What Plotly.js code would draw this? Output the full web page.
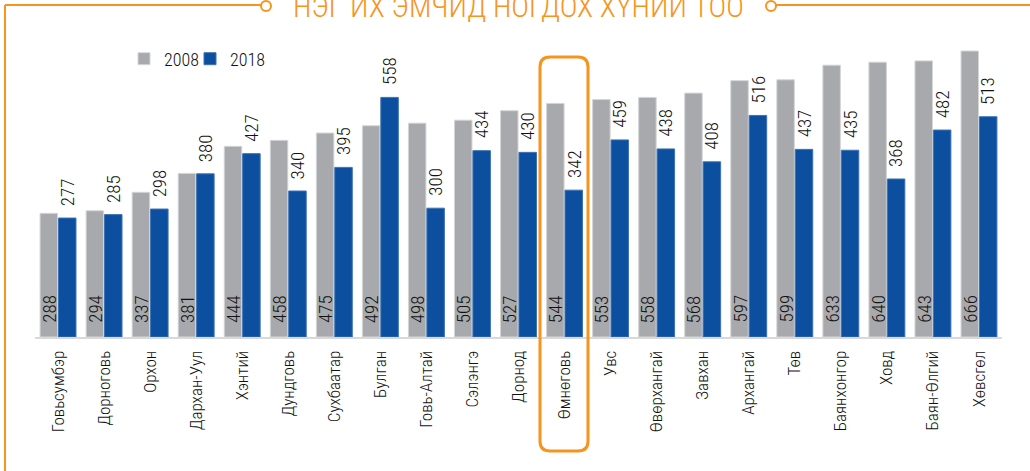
<!DOCTYPE html>
<html>
<head>
<meta charset="utf-8">
<script src="https://cdn.plot.ly/plotly-3.0.1.min.js"></script>
<style>html,body{margin:0;padding:0;background:#fff;}#chart{width:1030px;height:471px;}</style>
</head>
<body>
<div id="chart"></div>
<script>
const categories = ["Говьсумбэр","Дорноговь","Орхон","Дархан-Уул","Хэнтий","Дундговь","Сухбаатар","Булган","Говь-Алтай","Сэлэнгэ","Дорнод","Өмнөговь","Увс","Өвөрхангай","Завхан","Архангай","Төв","Баянхонгор","Ховд","Баян-Өлгий","Хөвсгөл"];
const values2008 = [288,294,337,381,444,458,475,492,498,505,527,544,553,558,568,597,599,633,640,643,666];
const values2018 = [277,285,298,380,427,340,395,558,300,434,430,342,459,438,408,516,437,435,368,482,513];
const seriesNames = ["2008","2018"];
const titleText = "НЭГ ИХ ЭМЧИД НОГДОХ ХҮНИЙ ТОО";
const highlighted = "Өмнөговь";

const FONT = "'Roboto Condensed', 'Roboto', sans-serif";
const GRAY = "#a7a9ac", BLUE = "#0b4f9e", ORANGE = "#f7941d", TXT = "#111111";

const W = 1030, H = 471, ML = 35, MR = 28, MT = 36, MB = 134;
const PW = W - ML - MR, PH = H - MT - MB;
const px = v => (v - ML) / PW;
const py = v => (H - MB - v) / PH;

const idx = categories.map((c, i) => i);
const annotations = [];
values2008.forEach((v, i) => annotations.push({
  x: i - 0.2, y: 0, xref: "x", yref: "y", text: String(v), showarrow: false,
  textangle: -90, yanchor: "bottom", xanchor: "center", yshift: 12,
  font: {family: FONT, size: 19, color: TXT, weight: 300}
}));
values2018.forEach((v, i) => annotations.push({
  x: i + 0.2, y: v, xref: "x", yref: "y", text: String(v), showarrow: false,
  textangle: -90, yanchor: "bottom", xanchor: "center", yshift: 10,
  font: {family: FONT, size: 19, color: TXT, weight: 300}
}));
annotations.push({
  x: px(518), y: py(6), xref: "paper", yref: "paper", text: titleText, showarrow: false,
  xanchor: "center", yanchor: "middle", font: {family: FONT, size: 30, color: ORANGE, weight: 300}
});

// highlight box around the highlighted category
const hi = categories.indexOf(highlighted);
const bx0 = 540, bx1 = 588, by0 = 57, by1 = 451, r = 10;
const boxPath = `M${px(bx0 + r)},${py(by0)} L${px(bx1 - r)},${py(by0)} Q${px(bx1)},${py(by0)} ${px(bx1)},${py(by0 + r)} ` +
  `L${px(bx1)},${py(by1 - r)} Q${px(bx1)},${py(by1)} ${px(bx1 - r)},${py(by1)} L${px(bx0 + r)},${py(by1)} ` +
  `Q${px(bx0)},${py(by1)} ${px(bx0)},${py(by1 - r)} L${px(bx0)},${py(by0 + r)} Q${px(bx0)},${py(by0)} ${px(bx0 + r)},${py(by0)} Z`;

const shapes = [
  {type: "path", xref: "paper", yref: "paper", path: boxPath, line: {color: ORANGE, width: 3}},
  {type: "line", xref: "paper", yref: "paper", x0: px(5), y0: py(5), x1: px(5), y1: py(471), line: {color: ORANGE, width: 2}},
  {type: "line", xref: "paper", yref: "paper", x0: px(5), y0: py(5), x1: px(261), y1: py(5), line: {color: ORANGE, width: 2}},
  {type: "line", xref: "paper", yref: "paper", x0: px(776), y0: py(5), x1: px(1030), y1: py(5), line: {color: ORANGE, width: 2}},
  {type: "circle", xref: "paper", yref: "paper", x0: px(261), y0: py(1), x1: px(271), y1: py(11), line: {color: ORANGE, width: 2}, fillcolor: "#fff"},
  {type: "circle", xref: "paper", yref: "paper", x0: px(766), y0: py(1), x1: px(776), y1: py(11), line: {color: ORANGE, width: 2}, fillcolor: "#fff"}
];

const data = [
  {type: "bar", name: seriesNames[0], x: idx, y: values2008, legend: "legend",
   marker: {color: GRAY, line: {color: "#d4d5d7", width: 1}}, hoverinfo: "y"},
  {type: "bar", name: seriesNames[1], x: idx, y: values2018, legend: "legend2",
   marker: {color: BLUE, line: {color: "#3d72b4", width: 1}}, hoverinfo: "y"}
];

const legendCommon = {orientation: "h", y: py(59), xanchor: "left", yanchor: "middle",
  font: {family: FONT, size: 18, color: TXT, weight: 300}, bgcolor: "rgba(0,0,0,0)", itemclick: false};

const layout = {
  width: W, height: H,
  margin: {l: ML, r: MR, t: MT, b: MB, pad: 0},
  paper_bgcolor: "#fff", plot_bgcolor: "#fff",
  barmode: "group", bargap: 0.2, bargroupgap: 0.05,
  font: {family: FONT, color: TXT},
  showlegend: true,
  legend: Object.assign({x: px(124)}, legendCommon),
  legend2: Object.assign({x: px(190)}, legendCommon),
  xaxis: {
    type: "linear", range: [-0.5, categories.length - 0.5], tickmode: "array", tickvals: idx, ticktext: categories,
    tickangle: -90, tickfont: {family: FONT, size: 17, color: TXT, weight: 300}, ticks: "", showgrid: false, zeroline: false,
    showline: true, linecolor: "#d9d9d9", linewidth: 2, ticklabelstandoff: 5
  },
  yaxis: {range: [0, 701], visible: false, showgrid: false, zeroline: false, fixedrange: true},
  annotations: annotations,
  shapes: shapes
};

Plotly.newPlot("chart", data, layout, {displayModeBar: false, staticPlot: true});
</script>
</body>
</html>
